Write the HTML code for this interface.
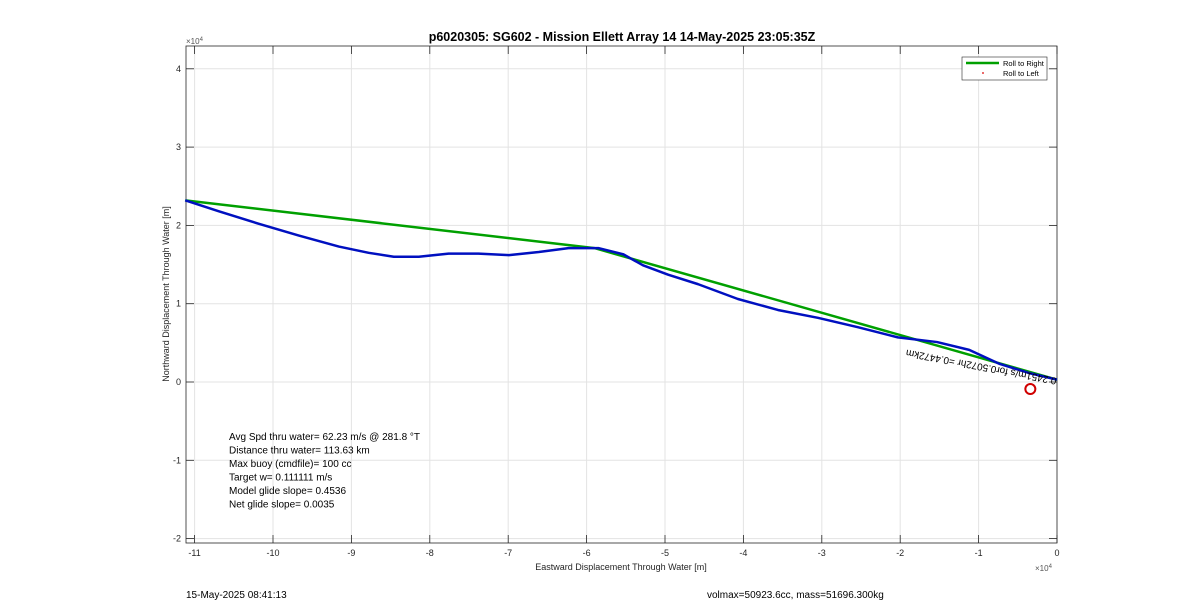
<!DOCTYPE html>
<html><head><meta charset="utf-8"><style>
body{margin:0;background:#fff;}
svg{display:block;font-family:"Liberation Sans",sans-serif;}
</style></head><body>
<svg width="1200" height="611" viewBox="0 0 1200 611">
<rect width="1200" height="611" fill="#fff"/>
<g id="grid"></g>
<g id="axes"></g>
<g id="series"></g>
<text x="622" y="41" text-anchor="middle" font-size="12.5" font-weight="bold" fill="#000">p6020305: SG602 - Mission Ellett Array 14 14-May-2025 23:05:35Z</text>
<text x="621" y="570" text-anchor="middle" font-size="9" fill="#262626">Eastward Displacement Through Water [m]</text>
<text transform="translate(169,294) rotate(-90)" text-anchor="middle" font-size="9" fill="#262626">Northward Displacement Through Water [m]</text>
<text x="186" y="44" font-size="8" fill="#555">×10<tspan dy="-3" font-size="6">4</tspan></text>
<text x="1035" y="571" font-size="8" fill="#555">×10<tspan dy="-3" font-size="6">4</tspan></text>
<g font-size="10" fill="#000">
<text x="229" y="440">Avg Spd thru water= 62.23 m/s @ 281.8 °T</text>
<text x="229" y="453.5">Distance thru water= 113.63 km</text>
<text x="229" y="467">Max buoy (cmdfile)= 100 cc</text>
<text x="229" y="480.5">Target w= 0.111111 m/s</text>
<text x="229" y="494">Model glide slope= 0.4536</text>
<text x="229" y="507.5">Net glide slope= 0.0035</text>
</g>
<text transform="translate(1057,378) rotate(190.7)" font-size="10" fill="#000">0.2451m/s for0.5072hr =0.4472km</text>
<g>
<rect x="962" y="57" width="85" height="23" fill="#fff" stroke="#262626" stroke-width="0.6"/>
<line x1="966" y1="63" x2="999" y2="63" stroke="#00a000" stroke-width="2.5"/>
<text x="1003" y="66" font-size="7.5">Roll to Right</text>
<circle cx="983" cy="73" r="0.9" fill="#d00"/>
<text x="1003" y="76" font-size="7.5">Roll to Left</text>
</g>
<text x="186" y="598" font-size="10" fill="#000">15-May-2025 08:41:13</text>
<text x="707" y="598" font-size="10" fill="#000">volmax=50923.6cc, mass=51696.300kg</text>
</svg>
<script>
const xTicks=[-11,-10,-9,-8,-7,-6,-5,-4,-3,-2,-1,0];
const yTicks=[-2,-1,0,1,2,3,4];
const greenX=[-11.12,-5.9,0];
const greenY=[2.32,1.71,0.03];
const blueX=[-11.12,-10.69,-10.18,-9.67,-9.16,-8.78,-8.46,-8.14,-7.76,-7.38,-6.99,-6.61,-6.23,-5.85,-5.53,-5.28,-4.96,-4.58,-4.07,-3.56,-3.05,-2.54,-2.03,-1.53,-1.12,-0.73,-0.34,0];
const blueY=[2.32,2.18,2.02,1.87,1.73,1.65,1.60,1.60,1.64,1.64,1.62,1.66,1.71,1.71,1.63,1.49,1.37,1.25,1.06,0.92,0.82,0.70,0.57,0.51,0.41,0.23,0.11,0.03];
const circleX=[-0.34];
const circleY=[-0.09];
const L=186,R=1057,T=46,B=543;
const sx=v=>1057+v*78.4;
const sy=v=>382-v*78.3;
const NS='http://www.w3.org/2000/svg';
function mk(t,a,p){const e=document.createElementNS(NS,t);for(const k in a)e.setAttribute(k,a[k]);p.appendChild(e);return e;}
const grid=document.getElementById('grid'),axes=document.getElementById('axes'),ser=document.getElementById('series');
mk('rect',{x:L,y:T,width:R-L,height:B-T,fill:'#fff'},grid);
xTicks.forEach(t=>{const x=sx(t);
const g=mk('line',{x1:x,y1:T,x2:x,y2:B,stroke:'#e3e3e3','stroke-width':1},grid);


mk('line',{x1:x,y1:B,x2:x,y2:B-8,stroke:'#262626','stroke-width':0.8},axes);
mk('line',{x1:x,y1:T,x2:x,y2:T+8,stroke:'#262626','stroke-width':0.8},axes);
const tx=mk('text',{x:x,y:B+13,'text-anchor':'middle','font-size':9,fill:'#262626'},axes);tx.textContent=t;

});
yTicks.forEach(t=>{const y=sy(t);
const g=mk('line',{x1:L,y1:y,x2:R,y2:y,stroke:'#e3e3e3','stroke-width':1},grid);


mk('line',{x1:L,y1:y,x2:L+8,y2:y,stroke:'#262626','stroke-width':0.8},axes);
mk('line',{x1:R,y1:y,x2:R-8,y2:y,stroke:'#262626','stroke-width':0.8},axes);
const tx=mk('text',{x:L-5,y:y+3,'text-anchor':'end','font-size':9,fill:'#262626'},axes);tx.textContent=t;

});
mk('rect',{x:L,y:T,width:R-L,height:B-T,fill:'none',stroke:'#262626','stroke-width':0.8},axes);
const gp=mk('polyline',{points:greenX.map((v,i)=>sx(v)+','+sy(greenY[i])).join(' '),fill:'none',stroke:'#00a000','stroke-width':2.5},ser);


const bp=mk('polyline',{points:blueX.map((v,i)=>sx(v)+','+sy(blueY[i])).join(' '),fill:'none',stroke:'#0010c0','stroke-width':2.5,'stroke-linejoin':'round'},ser);


circleX.forEach((v,i)=>{const c=mk('circle',{cx:sx(v),cy:sy(circleY[i]),r:5,fill:'none',stroke:'#d00000','stroke-width':2},ser);

});
</script>
</body></html>
